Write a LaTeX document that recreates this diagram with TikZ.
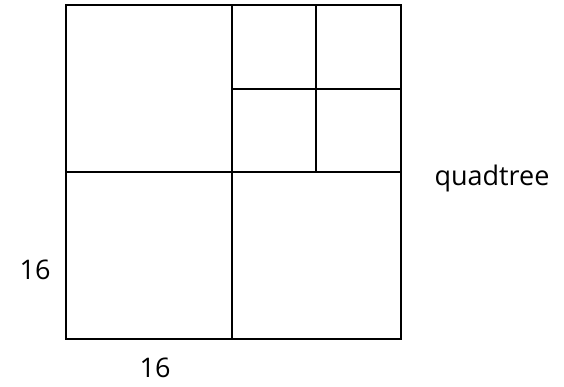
\documentclass[tikz,border=0pt]{standalone}
\usepackage{fontspec}
\setmainfont{Open Sans}
\begin{document}
\begin{tikzpicture}[x=1pt,y=1pt,
  grid/.style={line width=2.8pt, line cap=rect},
  lbl/.style={font=\fontsize{27}{32}\selectfont, inner sep=0pt}]
\useasboundingbox (0,0) rectangle (564,387);
\coordinate (tl) at (66,382);
\coordinate (br) at (401,48);
\draw[grid] (tl) rectangle (br);
\draw[grid] (232,382) -- (232,48);
\draw[grid] (66,215) -- (401,215);
\draw[grid] (316,382) -- (316,215);
\draw[grid] (232,298) -- (401,298);
\node[lbl] (l16) at (35,117) {16};
\node[lbl] (b16) at (155,19) {16};
\node[lbl] (qt) at (492,209) {quadtree};
\end{tikzpicture}
\end{document}
